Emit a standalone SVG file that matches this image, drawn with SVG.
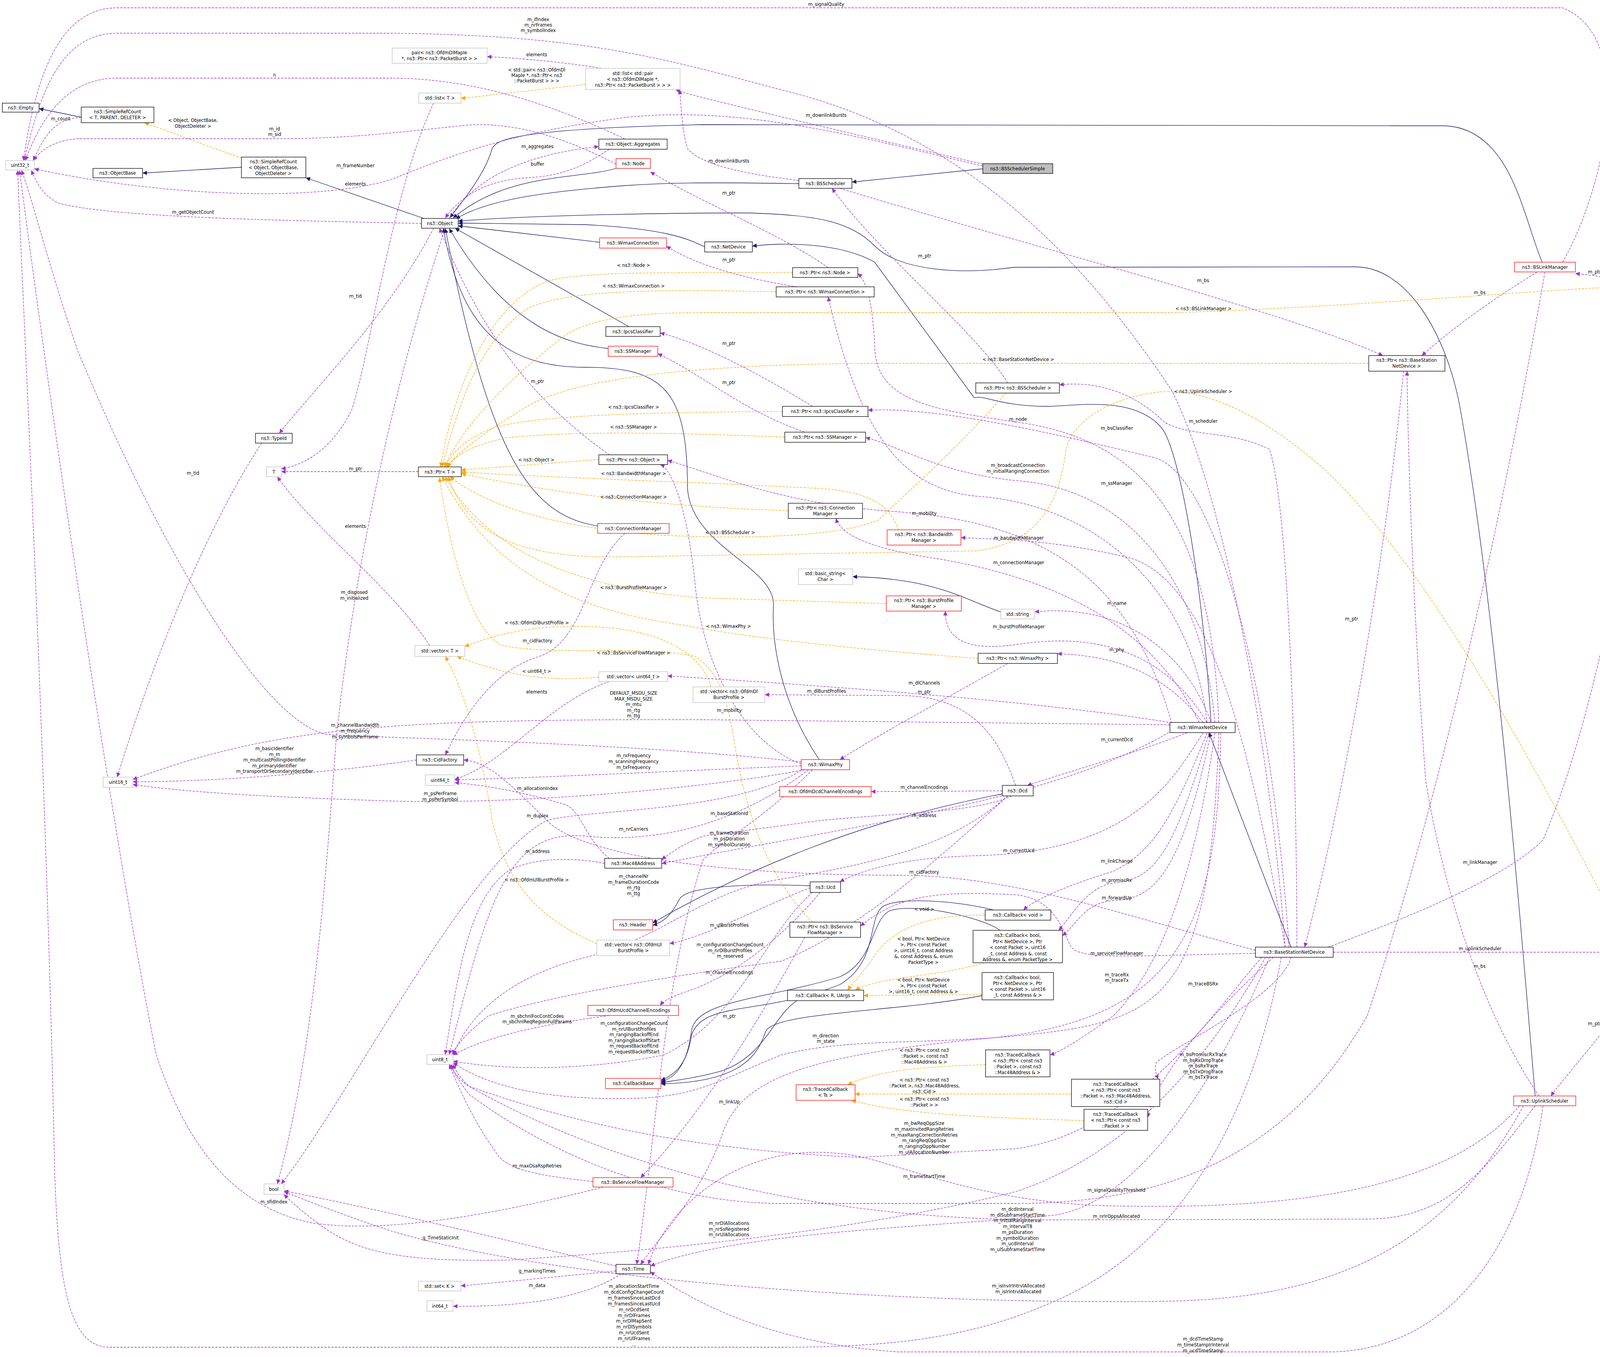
<svg xmlns="http://www.w3.org/2000/svg" width="4369" height="3473" viewBox="0 0 4369 3473">
<style>
text{font-family:"DejaVu Sans","Liberation Sans",sans-serif;font-size:11.5px;fill:#000;text-anchor:middle}
.b{fill:#fff;stroke:#000;stroke-width:1.3}
.r{fill:#fff;stroke:#f00;stroke-width:1.3}
.g{fill:#fff;stroke:#bfbfbf;stroke-width:1.3}
.s{fill:#bfbfbf;stroke:#000;stroke-width:1.3}
.u{fill:none;stroke:#9a32cd;stroke-width:1.3;stroke-dasharray:6,3;marker-end:url(#mu)}
.i{fill:none;stroke:#191970;stroke-width:1.3;marker-end:url(#mi)}
.t{fill:none;stroke:#ffa500;stroke-width:1.3;stroke-dasharray:6,3;marker-end:url(#mt)}
</style>
<defs>
<marker id="mu" viewBox="0 0 10 10" refX="10" refY="5" markerWidth="13" markerHeight="11" markerUnits="userSpaceOnUse" orient="auto"><path d="M0,0L10,5L0,10z" fill="#9a32cd"/></marker>
<marker id="mi" viewBox="0 0 10 10" refX="10" refY="5" markerWidth="13" markerHeight="11" markerUnits="userSpaceOnUse" orient="auto"><path d="M0,0L10,5L0,10z" fill="#191970"/></marker>
<marker id="mt" viewBox="0 0 10 10" refX="10" refY="5" markerWidth="13" markerHeight="11" markerUnits="userSpaceOnUse" orient="auto"><path d="M0,0L10,5L0,10z" fill="#ffa500"/></marker>
</defs>
<rect width="4369" height="3473" fill="#fff"/>
<g id="connectors">
<path class="i" d="M208,300L100,278"/>
<path class="i" d="M618,428L365,443"/>
<path class="i" d="M1085,559L783,455"/>
<path class="i" d="M3948,671C3900,560 3870,330 3700,322L1800,319C1300,330 1270,360 1260,380C1240,450 1180,520 1152,557"/>
<path class="i" d="M1577,431C1480,460 1300,440 1160,558"/>
<path class="i" d="M2045,470C1800,466 1700,468 1600,475C1400,490 1250,510 1167,560"/>
<path class="i" d="M1804,632C1760,610 1700,585 1500,575L1173,571"/>
<path class="i" d="M3930,2805C3880,2200 3820,1500 3736,1034C3700,850 3600,683 3470,683L2596,684C2450,705 2300,690 2240,630C2180,570 2100,548 1900,545C1600,545 1300,555 1173,566"/>
<path class="i" d="M1535,620L1173,578"/>
<path class="i" d="M1610,836L1165,584"/>
<path class="i" d="M1557,892C1450,880 1300,840 1150,585"/>
<path class="i" d="M1530,1346C1350,1320 1250,1150 1140,585"/>
<path class="i" d="M2097,1944C2000,1800 1975,1650 1980,1550C1985,1450 1770,1400 1760,1250C1760,1000 1700,940 1500,940C1300,940 1180,850 1135,584"/>
<path class="i" d="M3100,1849C3080,1500 3020,1150 2973,1094C2900,1010 2750,1040 2680,1040C2560,1040 2520,1010 2494,1018L2239,671C2150,620 2000,620 1926,630"/>
<path class="i" d="M3305,2424L3095,1875"/>
<path class="i" d="M2516,432L2181,466"/>
<path class="i" d="M2562,1566C2480,1540 2400,1480 2183,1476"/>
<path class="i" d="M2566,2032C2200,2100 1900,2230 1671,2362"/>
<path class="i" d="M2074,2267C1900,2260 1760,2270 1740,2300C1720,2340 1700,2360 1671,2368"/>
<path class="i" d="M2543,2329C2450,2305 2300,2295 2260,2320C2220,2350 2250,2460 2150,2520C1950,2600 1800,2560 1770,2650C1760,2720 1730,2750 1692,2765"/>
<path class="i" d="M2560,2381C2520,2350 2350,2310 2280,2330C2230,2350 2240,2460 2150,2500C1950,2560 1780,2560 1770,2640C1760,2720 1730,2760 1692,2768"/>
<path class="i" d="M2514,2548C2300,2590 1980,2590 1960,2640C1940,2700 1900,2770 1692,2774"/>
<path class="i" d="M2040,2561C1980,2600 1960,2700 1850,2740C1780,2760 1720,2766 1692,2771"/>
<path class="t" d="M618,405L370,314"/>
<path class="t" d="M1499,216L1180,252"/>
<path class="t" d="M2029,697C1800,700 1500,690 1400,720C1250,780 1160,1000 1128,1195"/>
<path class="t" d="M1987,747C1700,740 1450,740 1350,790C1220,880 1170,1050 1132,1195"/>
<path class="t" d="M4127,735C3900,745 3400,790 3000,800L1800,800C1600,800 1480,820 1420,880C1280,990 1180,1100 1138,1195"/>
<path class="t" d="M3504,930L2200,930C1700,935 1450,980 1350,1040C1250,1100 1180,1150 1143,1195"/>
<path class="t" d="M4170,2424C4000,2100 3700,1500 3400,1210C3200,1030 3050,990 2953,1005C2800,1030 2740,1100 2729,1150C2710,1300 2650,1390 2500,1410L1600,1425C1350,1430 1200,1380 1148,1220"/>
<path class="t" d="M2003,1053C1700,1055 1350,1060 1250,1100C1180,1130 1150,1170 1140,1195"/>
<path class="t" d="M2009,1119C1800,1110 1500,1100 1300,1120C1200,1140 1160,1170 1146,1196"/>
<path class="t" d="M1533,1176L1181,1203"/>
<path class="t" d="M2300,1356C2280,1300 2240,1260 2100,1250L1800,1236C1500,1225 1300,1215 1181,1208"/>
<path class="t" d="M2018,1307C1800,1300 1500,1280 1181,1212"/>
<path class="t" d="M2575,1006C2450,1150 2300,1280 2250,1330C2150,1375 1900,1380 1700,1370C1450,1355 1250,1300 1152,1220"/>
<path class="t" d="M2269,1545L1800,1530C1500,1510 1250,1420 1140,1220"/>
<path class="t" d="M2504,1685C2300,1670 1950,1640 1750,1600C1450,1560 1250,1450 1132,1220"/>
<path class="t" d="M2080,2360C2000,2280 1920,2150 1880,1900C1860,1780 1840,1720 1780,1680C1650,1650 1400,1680 1280,1650C1200,1600 1150,1400 1125,1222"/>
<path class="t" d="M1820,1758C1800,1680 1700,1605 1490,1603C1350,1600 1250,1630 1190,1655"/>
<path class="t" d="M1533,1733C1400,1745 1300,1730 1170,1680"/>
<path class="t" d="M1528,2415C1400,2360 1300,2280 1260,2100C1230,1900 1180,1750 1140,1680"/>
<path class="t" d="M2522,2342C2350,2340 2270,2390 2230,2460C2200,2500 2180,2520 2170,2534"/>
<path class="t" d="M2520,2464C2400,2500 2250,2500 2190,2534"/>
<path class="t" d="M2514,2545L2211,2548"/>
<path class="t" d="M2523,2725C2350,2730 2250,2740 2170,2776"/>
<path class="t" d="M2743,2800L2189,2800"/>
<path class="t" d="M2775,2868C2500,2860 2300,2850 2180,2816"/>
<path class="u" d="M208,300C150,305 120,330 85,411"/>
<path class="u" d="M1600,356C1400,260 1200,200 1000,200L300,200C200,200 120,260 65,411"/>
<path class="u" d="M4000,671C4100,500 4200,100 4000,20L300,20C150,20 90,200 60,411"/>
<path class="u" d="M3290,2424C3260,2000 3150,1300 3000,1000C2800,700 2500,350 2000,230C1700,150 1500,90 1000,85L300,85C150,85 100,250 62,411"/>
<path class="u" d="M1577,420C1500,380 1350,310 1200,320C1000,340 900,355 700,355L200,355C130,360 100,390 85,411"/>
<path class="u" d="M2516,425C2200,350 1900,270 1607,300C1300,340 1150,400 1000,460C800,520 400,500 88,432"/>
<path class="u" d="M1079,572C800,565 300,560 150,520C110,500 95,470 80,436"/>
<path class="u" d="M1540,175C1450,160 1350,150 1247,145"/>
<path class="u" d="M2516,420C2300,370 2000,300 1800,250C1760,240 1745,235 1730,230"/>
<path class="u" d="M2045,462C1950,450 1800,430 1760,380C1745,330 1745,280 1740,230"/>
<path class="u" d="M1150,559C1200,480 1300,400 1533,375"/>
<path class="u" d="M1560,382C1500,420 1450,450 1350,455C1250,460 1180,500 1140,558"/>
<path class="u" d="M2120,685C2000,600 1800,520 1665,440"/>
<path class="u" d="M2040,734C1950,720 1800,690 1706,630"/>
<path class="u" d="M2580,980C2500,850 2250,650 2130,482"/>
<path class="u" d="M2150,482C2600,620 3300,800 3540,910"/>
<path class="u" d="M2080,1040C1950,960 1800,880 1690,852"/>
<path class="u" d="M2060,1106C1900,1050 1800,960 1684,905"/>
<path class="u" d="M1560,1164C1400,1050 1250,900 1125,584"/>
<path class="u" d="M1071,1207L720,1207"/>
<path class="u" d="M1110,584C1000,800 800,1000 715,1109"/>
<path class="u" d="M670,1134C560,1300 420,1600 300,1989"/>
<path class="u" d="M1110,264C1000,500 950,900 900,1050C850,1150 780,1190 720,1200"/>
<path class="u" d="M1100,1652C1000,1500 800,1350 710,1220"/>
<path class="u" d="M1140,584C1000,1000 900,1500 860,1900C830,2300 800,2700 710,3030"/>
<path class="u" d="M1600,1365C1500,1450 1500,1640 1380,1680C1250,1720 1180,1850 1140,1932"/>
<path class="u" d="M3214,2432C2900,2350 2600,2240 2300,2240C1900,2240 1500,2200 1400,2100C1300,2000 1250,1950 1187,1945"/>
<path class="u" d="M1560,1744C1400,1800 1300,1950 1164,1995"/>
<path class="u" d="M2995,1855L1800,1842C1000,1840 700,1860 340,1995"/>
<path class="u" d="M2051,1950C1600,1900 1000,1890 840,1880C700,1860 450,1500 200,900C130,700 80,500 55,436"/>
<path class="u" d="M1066,1945C900,1970 600,2000 340,2001"/>
<path class="u" d="M2051,1960C1800,1970 1400,1990 1164,1996"/>
<path class="u" d="M2060,1970C1800,2020 1300,2060 1000,2050C700,2040 500,2030 340,2008"/>
<path class="u" d="M1560,2197C1500,2150 1490,2080 1450,2060C1350,2030 1250,2010 1164,2003"/>
<path class="u" d="M2060,1965C1900,2080 1500,2070 1400,2100C1200,2200 900,2800 720,3030"/>
<path class="u" d="M2070,1970C1900,2100 1700,2160 1500,2140C1300,2120 1250,2300 1150,2699"/>
<path class="u" d="M3000,1870C2700,2050 2200,2110 1694,2210"/>
<path class="u" d="M1548,2210C1450,2190 1350,2200 1300,2230C1200,2300 1170,2500 1140,2699"/>
<path class="u" d="M2590,2037C2500,2080 2300,2080 2100,2100L1800,2140C1750,2160 1720,2180 1694,2200"/>
<path class="u" d="M2080,1970C1950,2100 1850,2150 1800,2200C1700,2500 1680,2900 1630,3236"/>
<path class="u" d="M2580,2037C2450,2150 2300,2200 2000,2250C1800,2280 1700,2400 1500,2450C1300,2500 1200,2600 1160,2699"/>
<path class="u" d="M2566,2024L2230,2026"/>
<path class="u" d="M2600,2010C2560,1900 2500,1780 2300,1780L1958,1778"/>
<path class="u" d="M2580,1698C2400,1800 2250,1880 2150,1944"/>
<path class="u" d="M3000,1850C2700,1800 2200,1760 1709,1730"/>
<path class="u" d="M3040,1875C2900,1930 2750,1970 2630,2010"/>
<path class="u" d="M3080,1875C3000,2000 2900,2180 2500,2190C2300,2195 2200,2230 2150,2257"/>
<path class="u" d="M3090,1876C3000,2100 2950,2180 2850,2230C2750,2260 2650,2300 2620,2329"/>
<path class="u" d="M3095,1876C3000,2200 2950,2250 2850,2260C2780,2270 2740,2350 2710,2381"/>
<path class="u" d="M3100,1876C3020,2250 2950,2300 2850,2305C2780,2310 2760,2360 2720,2395"/>
<path class="u" d="M3214,2440C2900,2445 2760,2460 2740,2420C2720,2380 2700,2300 2600,2290C2400,2280 2300,2290 2203,2370"/>
<path class="u" d="M3110,1876C3050,2300 2950,2500 2850,2600C2780,2650 2720,2690 2688,2700"/>
<path class="u" d="M3260,2450C3150,2550 3000,2700 2950,2820C2945,2840 2940,2850 2938,2860"/>
<path class="u" d="M3305,2450C3280,2550 3000,2680 2960,2720C2955,2740 2960,2750 2965,2762"/>
<path class="u" d="M3100,1849C3050,1700 2900,1540 2649,1566"/>
<path class="u" d="M3090,1849C3000,1700 2850,1610 2600,1650C2450,1670 2420,1620 2420,1564"/>
<path class="u" d="M3080,1849C3000,1750 2900,1680 2707,1673"/>
<path class="u" d="M3070,1849C2950,1600 2700,1480 2400,1430C2200,1400 2150,1360 2140,1327"/>
<path class="u" d="M3290,2424C3200,1900 3100,1500 2900,1430C2700,1380 2550,1380 2460,1376"/>
<path class="u" d="M3110,1849C3080,1500 2900,1250 2600,1230C2400,1210 2300,1140 2216,1120"/>
<path class="u" d="M3090,1849C3050,1500 2800,1290 2500,1270C2300,1250 2200,1100 2120,760"/>
<path class="u" d="M3120,1849C3100,1300 2900,1120 2600,1080C2400,1050 2250,1030 2240,900C2235,780 2220,720 2196,700"/>
<path class="u" d="M3300,2424C3250,1700 3100,1200 2950,1170C2700,1110 2400,1040 2222,1050"/>
<path class="u" d="M3320,2424C3320,2000 3300,1300 3250,1150C3150,1100 3050,1120 2980,1080C2900,1000 2800,975 2712,985"/>
<path class="u" d="M3593,950C3550,1400 3450,2000 3340,2424"/>
<path class="u" d="M3940,2805C3800,2600 3700,2300 3650,2000C3620,1600 3605,1200 3602,950"/>
<path class="u" d="M3935,696C3800,780 3720,840 3640,910"/>
<path class="u" d="M4170,722C4120,710 4080,705 4033,700"/>
<path class="u" d="M3400,2424C3600,2350 3850,2250 3950,2150C4100,1800 4200,1200 4245,747"/>
<path class="u" d="M3413,2437L4124,2437"/>
<path class="u" d="M4230,2450C4150,2600 4050,2700 3970,2805"/>
<path class="u" d="M3955,696C3850,1300 3700,2000 3500,2600C3300,2950 3000,3080 2600,3080L2000,3080C1700,3080 1400,2950 1200,2800C1170,2760 1160,2740 1150,2724"/>
<path class="u" d="M3930,2830C3800,3000 3700,3120 3500,3120L2700,3122C2000,3125 1500,2950 1200,2780C1170,2760 1160,2740 1155,2724"/>
<path class="u" d="M3890,2830C3700,3050 3300,3100 2800,3085C2500,3070 2300,2980 2200,2960C1900,2900 1700,3100 1660,3236"/>
<path class="u" d="M3230,2450C3100,2600 2900,2900 2600,2940L2200,2962C1700,2940 1400,2850 1200,2780C1180,2760 1165,2740 1160,2724"/>
<path class="u" d="M2074,2272C1950,2320 1800,2400 1714,2415"/>
<path class="u" d="M2580,2037C2400,2200 2200,2380 2000,2460C1700,2500 1400,2550 1250,2600C1200,2640 1170,2670 1158,2699"/>
<path class="u" d="M2100,2284C2000,2400 1900,2480 1780,2530C1720,2550 1700,2560 1690,2573"/>
<path class="u" d="M1560,2599C1400,2620 1250,2650 1160,2700"/>
<path class="u" d="M2080,2284C1950,2400 1900,2600 1700,2700C1500,2740 1300,2740 1160,2716"/>
<path class="u" d="M2060,2399C1950,2600 1800,2850 1640,3014"/>
<path class="u" d="M3120,1876C3100,2500 3000,2600 2700,2640C2400,2680 2200,2650 2000,2700C1850,2760 1800,2800 1650,2810C1400,2820 1250,2780 1160,2720"/>
<path class="u" d="M3125,1876C3120,2400 3000,2620 2500,2660C2100,2700 1900,2750 1850,2900C1800,3050 1700,3150 1640,3236"/>
<path class="u" d="M1518,3024C1400,3010 1300,3000 1270,2950C1220,2880 1180,2800 1150,2724"/>
<path class="u" d="M1545,3038C1300,3100 1000,3160 800,3130C650,3100 500,3000 400,2700C300,2200 150,1200 50,436"/>
<path class="u" d="M1577,3240C1400,3200 1000,3100 727,3048"/>
<path class="u" d="M1577,3253C1450,3265 1300,3280 1180,3291"/>
<path class="u" d="M1590,3260C1500,3320 1350,3345 1160,3343"/>
<path class="u" d="M3280,2450C3200,2900 3000,3200 2700,3330C2500,3420 2300,3448 2000,3448L280,3448C180,3448 150,3300 140,3000C120,2000 60,800 45,436"/>
<path class="u" d="M3240,2450C3100,2700 2900,2950 2600,3050C2200,3150 1700,3200 1300,3225C1000,3230 900,3200 800,3120C760,3090 740,3070 727,3057"/>
<path class="u" d="M3250,2450C3100,2800 2900,3080 2700,3110C2400,3140 1900,3150 1665,3240"/>
<path class="u" d="M3900,2830C3700,3200 3400,3320 3000,3330C2500,3340 1500,3300 1000,3150C850,3100 780,3070 727,3050"/>
<path class="u" d="M3950,2830C3900,3200 3700,3460 3400,3460L2300,3460C2000,3440 1800,3350 1665,3255"/>
<path class="u" d="M3000,1852C2900,1500 2700,1340 2300,1310C2000,1290 1850,1220 1709,1178"/>
<path class="u" d="M2051,1955C1900,1900 1800,1700 1780,1500C1760,1300 1720,1200 1690,1189"/>
</g>
<g id="labels">
<text x="494" y="312">&lt; Object, ObjectBase,<tspan x="494" dy="15">ObjectDeleter &gt;</tspan></text>
<text x="1374" y="183">&lt; std::pair&lt; ns3::OfdmDl<tspan x="1374" dy="14">MapIe *, ns3::Ptr&lt; ns3</tspan><tspan x="1374" dy="14">::PacketBurst &gt; &gt; &gt;</tspan></text>
<text x="1622" y="683">&lt; ns3::Node &gt;</text>
<text x="1622" y="736">&lt; ns3::WimaxConnection &gt;</text>
<text x="3081" y="794">&lt; ns3::BSLinkManager &gt;</text>
<text x="2607" y="924">&lt; ns3::BaseStationNetDevice &gt;</text>
<text x="3080" y="1006">&lt; ns3::UplinkScheduler &gt;</text>
<text x="1622" y="1046">&lt; ns3::IpcsClassifier &gt;</text>
<text x="1622" y="1097">&lt; ns3::SSManager &gt;</text>
<text x="1373" y="1181">&lt; ns3::Object &gt;</text>
<text x="1622" y="1216">&lt; ns3::BandwidthManager &gt;</text>
<text x="1622" y="1276">&lt; ns3::ConnectionManager &gt;</text>
<text x="1869" y="1367">&lt; ns3::BSScheduler &gt;</text>
<text x="1622" y="1508">&lt; ns3::BurstProfileManager &gt;</text>
<text x="1374" y="1598">&lt; ns3::OfdmDlBurstProfile &gt;</text>
<text x="1865" y="1607">&lt; ns3::WimaxPhy &gt;</text>
<text x="1622" y="1675">&lt; ns3::BsServiceFlowManager &gt;</text>
<text x="1374" y="1722">&lt; uint64_t &gt;</text>
<text x="1374" y="2256">&lt; ns3::OfdmUlBurstProfile &gt;</text>
<text x="2366" y="2331">&lt; void &gt;</text>
<text x="2364" y="2407">&lt; bool, Ptr&lt; NetDevice<tspan x="2364" dy="15">&gt;, Ptr&lt; const Packet</tspan><tspan x="2364" dy="15">&gt;, uint16_t, const Address</tspan><tspan x="2364" dy="15">&amp;, const Address &amp;, enum</tspan><tspan x="2364" dy="15">PacketType &gt;</tspan></text>
<text x="2364" y="2512">&lt; bool, Ptr&lt; NetDevice<tspan x="2364" dy="15">&gt;, Ptr&lt; const Packet</tspan><tspan x="2364" dy="15">&gt;, uint16_t, const Address &amp; &gt;</tspan></text>
<text x="2366" y="2692">&lt; ns3::Ptr&lt; const ns3<tspan x="2366" dy="15">::Packet &gt;, const ns3</tspan><tspan x="2366" dy="15">::Mac48Address &amp; &gt;</tspan></text>
<text x="2366" y="2768">&lt; ns3::Ptr&lt; const ns3<tspan x="2366" dy="15">::Packet &gt;, ns3::Mac48Address,</tspan><tspan x="2366" dy="15">ns3::Cid &gt;</tspan></text>
<text x="2366" y="2817">&lt; ns3::Ptr&lt; const ns3<tspan x="2366" dy="15">::Packet &gt; &gt;</tspan></text>
<text x="155" y="308">m_count</text>
<text x="703" y="196">n</text>
<text x="2115" y="15">m_signalQuality</text>
<text x="1378" y="54">m_ifIndex<tspan x="1378" dy="14">m_nrFrames</tspan><tspan x="1378" dy="14">m_symbolIndex</tspan></text>
<text x="703" y="334">m_id<tspan x="703" dy="14">m_sid</tspan></text>
<text x="910" y="428">m_frameNumber</text>
<text x="494" y="547">m_getObjectCount</text>
<text x="1374" y="144">elements</text>
<text x="2115" y="299">m_downlinkBursts</text>
<text x="1866" y="416">m_downlinkBursts</text>
<text x="1376" y="379">m_aggregates</text>
<text x="1376" y="424">buffer</text>
<text x="1866" y="498">m_ptr</text>
<text x="1866" y="669">m_ptr</text>
<text x="2367" y="659">m_ptr</text>
<text x="3080" y="722">m_bs</text>
<text x="1866" y="883">m_ptr</text>
<text x="1866" y="983">m_ptr</text>
<text x="1376" y="980">m_ptr</text>
<text x="910" y="1204">m_ptr</text>
<text x="910" y="762">m_tid</text>
<text x="494" y="1215">m_tid</text>
<text x="910" y="475">elements</text>
<text x="910" y="1351">elements</text>
<text x="907" y="1520">m_disposed<tspan x="907" dy="15">m_initialized</tspan></text>
<text x="1376" y="1644">m_cidFactory</text>
<text x="2366" y="2236">m_cidFactory</text>
<text x="1374" y="1775">elements</text>
<text x="1622" y="1778">DEFAULT_MSDU_SIZE<tspan x="1622" dy="14.5">MAX_MSDU_SIZE</tspan><tspan x="1622" dy="14.5">m_mtu</tspan><tspan x="1622" dy="14.5">m_rtg</tspan><tspan x="1622" dy="14.5">m_ttg</tspan></text>
<text x="909" y="1860">m_channelBandwidth<tspan x="909" dy="15">m_frequency</tspan><tspan x="909" dy="15">m_symbolsPerFrame</tspan></text>
<text x="703" y="1920">m_basicIdentifier<tspan x="703" dy="14.5">m_m</tspan><tspan x="703" dy="14.5">m_multicastPollingIdentifier</tspan><tspan x="703" dy="14.5">m_primaryIdentifier</tspan><tspan x="703" dy="14.5">m_transportOrSecondaryIdentifier</tspan></text>
<text x="1622" y="1938">m_rxFrequency<tspan x="1622" dy="15">m_scanningFrequency</tspan><tspan x="1622" dy="15">m_txFrequency</tspan></text>
<text x="1127" y="2035">m_psPerFrame<tspan x="1127" dy="15">m_psPerSymbol</tspan></text>
<text x="1376" y="2022">m_allocationIndex</text>
<text x="1376" y="2092">m_duplex</text>
<text x="1622" y="2126">m_nrCarriers</text>
<text x="2366" y="2091">m_address</text>
<text x="1376" y="2183">m_address</text>
<text x="1867" y="2086">m_baseStationId</text>
<text x="1867" y="2136">m_frameDuration<tspan x="1867" dy="15">m_psDuration</tspan><tspan x="1867" dy="15">m_symbolDuration</tspan></text>
<text x="1622" y="2247">m_channelNr<tspan x="1622" dy="14.5">m_frameDurationCode</tspan><tspan x="1622" dy="14.5">m_rtg</tspan><tspan x="1622" dy="14.5">m_ttg</tspan></text>
<text x="2366" y="2019">m_channelEncodings</text>
<text x="2116" y="1773">m_dlBurstProfiles</text>
<text x="2366" y="1775">m_ptr</text>
<text x="2366" y="1752">m_dlChannels</text>
<text x="2859" y="1897">m_currentDcd</text>
<text x="2608" y="2181">m_currentUcd</text>
<text x="2859" y="2208">m_linkChange</text>
<text x="2859" y="2257">m_promiscRx</text>
<text x="2859" y="2302">m_forwardUp</text>
<text x="2859" y="2444">m_serviceFlowManager</text>
<text x="2859" y="2499">m_traceRx<tspan x="2859" dy="14">m_traceTx</tspan></text>
<text x="3080" y="2522">m_traceBSRx</text>
<text x="3080" y="2703">m_bsPromiscRxTrace<tspan x="3080" dy="14.5">m_bsRxDropTrace</tspan><tspan x="3080" dy="14.5">m_bsRxTrace</tspan><tspan x="3080" dy="14.5">m_bsTxDropTrace</tspan><tspan x="3080" dy="14.5">m_bsTxTrace</tspan></text>
<text x="2859" y="1548">m_name</text>
<text x="2608" y="1608">m_burstProfileManager</text>
<text x="2859" y="1667">m_phy</text>
<text x="2608" y="1444">m_connectionManager</text>
<text x="2608" y="1381">m_bandwidthManager</text>
<text x="2859" y="1241">m_ssManager</text>
<text x="2606" y="1195">m_broadcastConnection<tspan x="2606" dy="15">m_initialRangingConnection</tspan></text>
<text x="2606" y="1077">m_node</text>
<text x="2859" y="1100">m_bsClassifier</text>
<text x="3080" y="1082">m_scheduler</text>
<text x="3460" y="1588">m_ptr</text>
<text x="3788" y="2477">m_bs</text>
<text x="3788" y="753">m_bs</text>
<text x="4082" y="700">m_ptr</text>
<text x="3789" y="2211">m_linkManager</text>
<text x="3789" y="2432">m_uplinkScheduler</text>
<text x="4082" y="2624">m_ptr</text>
<text x="2858" y="3050">m_signalQualityThreshold</text>
<text x="2858" y="3117">m_nrIrOppsAllocated</text>
<text x="2366" y="3015">m_frameStartTime</text>
<text x="2366" y="2879">m_bwReqOppSize<tspan x="2366" dy="14.8">m_maxInvitedRangRetries</tspan><tspan x="2366" dy="14.8">m_maxRangCorrectionRetries</tspan><tspan x="2366" dy="14.8">m_rangReqOppSize</tspan><tspan x="2366" dy="14.8">m_rangingOppNumber</tspan><tspan x="2366" dy="14.8">m_ulAllocationNumber</tspan></text>
<text x="1867" y="2372">m_ulBurstProfiles</text>
<text x="1869" y="2422">m_configurationChangeCount<tspan x="1869" dy="14.5">m_nrDlBurstProfiles</tspan><tspan x="1869" dy="14.5">m_reserved</tspan></text>
<text x="1867" y="2493">m_channelEncodings</text>
<text x="1375" y="2605">m_sbchnlFocContCodes<tspan x="1375" dy="14">m_sbchnlReqRegionFullParams</tspan></text>
<text x="1623" y="2623">m_configurationChangeCount<tspan x="1623" dy="14.5">m_nrUlBurstProfiles</tspan><tspan x="1623" dy="14.5">m_rangingBackoffEnd</tspan><tspan x="1623" dy="14.5">m_rangingBackoffStart</tspan><tspan x="1623" dy="14.5">m_requestBackoffEnd</tspan><tspan x="1623" dy="14.5">m_requestBackoffStart</tspan></text>
<text x="1867" y="2605">m_ptr</text>
<text x="2114" y="2655">m_direction<tspan x="2114" dy="14">m_state</tspan></text>
<text x="1867" y="2824">m_linkUp</text>
<text x="1375" y="2988">m_maxDsaRspRetries</text>
<text x="701" y="3080">m_sfidIndex</text>
<text x="1128" y="3172">g_TimeStaticInit</text>
<text x="1375" y="3257">g_markingTimes</text>
<text x="1375" y="3294">m_data</text>
<text x="1623" y="3296">m_allocationStartTime<tspan x="1623" dy="14.9">m_dcdConfigChangeCount</tspan><tspan x="1623" dy="14.9">m_framesSinceLastDcd</tspan><tspan x="1623" dy="14.9">m_framesSinceLastUcd</tspan><tspan x="1623" dy="14.9">m_nrDcdSent</tspan><tspan x="1623" dy="14.9">m_nrDlFrames</tspan><tspan x="1623" dy="14.9">m_nrDlMapSent</tspan><tspan x="1623" dy="14.9">m_nrDlSymbols</tspan><tspan x="1623" dy="14.9">m_nrUcdSent</tspan><tspan x="1623" dy="14.9">m_nrUlFrames</tspan><tspan x="1623" dy="14.9">...</tspan></text>
<text x="1866" y="3135">m_nrDlAllocations<tspan x="1866" dy="14.5">m_nrSsRegistered</tspan><tspan x="1866" dy="14.5">m_nrUlAllocations</tspan></text>
<text x="2605" y="3099">m_dcdInterval<tspan x="2605" dy="14.7">m_dlSubframeStartTime</tspan><tspan x="2605" dy="14.7">m_initialRangInterval</tspan><tspan x="2605" dy="14.7">m_intervalT8</tspan><tspan x="2605" dy="14.7">m_psDuration</tspan><tspan x="2605" dy="14.7">m_symbolDuration</tspan><tspan x="2605" dy="14.7">m_ucdInterval</tspan><tspan x="2605" dy="14.7">m_ulSubframeStartTime</tspan></text>
<text x="2607" y="3295">m_isInvIrIntrvlAllocated<tspan x="2607" dy="15">m_isIrIntrvlAllocated</tspan></text>
<text x="3080" y="3431">m_dcdTimeStamp<tspan x="3080" dy="15">m_timeStampIrInterval</tspan><tspan x="3080" dy="15">m_ucdTimeStamp</tspan></text>
<text x="2366" y="1318">m_mobility</text>
<text x="1867" y="1822">m_mobility</text>
</g>
<g id="n1"><rect class="b" x="6" y="264" width="94" height="23"/><text x="53" y="280">ns3::Empty</text></g>
<g id="n2"><rect class="b" x="208" y="274" width="186" height="40"/><text x="301" y="290">ns3::SimpleRefCount<tspan x="301" dy="15">&lt; T, PARENT, DELETER &gt;</tspan></text></g>
<g id="n3"><rect class="g" x="15" y="411" width="73" height="24"/><text x="51" y="427">uint32_t</text></g>
<g id="n4"><rect class="b" x="238" y="431" width="127" height="24"/><text x="301" y="447">ns3::ObjectBase</text></g>
<g id="n5"><rect class="b" x="618" y="402" width="165" height="53"/><text x="700" y="418">ns3::SimpleRefCount<tspan x="700" dy="15">&lt; Object, ObjectBase,</tspan><tspan x="700" dy="15">ObjectDeleter &gt;</tspan></text></g>
<g id="n6"><rect class="g" x="1004" y="123" width="243" height="39"/><text x="1125" y="139">pair&lt; ns3::OfdmDlMapIe<tspan x="1125" dy="15">*, ns3::Ptr&lt; ns3::PacketBurst &gt; &gt;</tspan></text></g>
<g id="n7"><rect class="g" x="1499" y="175" width="242" height="54"/><text x="1620" y="192">std::list&lt; std::pair<tspan x="1620" dy="15">&lt; ns3::OfdmDlMapIe *,</tspan><tspan x="1620" dy="15">ns3::Ptr&lt; ns3::PacketBurst &gt; &gt; &gt;</tspan></text></g>
<g id="n8"><rect class="g" x="1072" y="238" width="108" height="26"/><text x="1126" y="255">std::list&lt; T &gt;</text></g>
<g id="n9"><rect class="b" x="1533" y="356" width="175" height="26"/><text x="1620" y="373">ns3::Object::Aggregates</text></g>
<g id="n10"><rect class="r" x="1577" y="406" width="88" height="25"/><text x="1621" y="423">ns3::Node</text></g>
<g id="n11"><rect class="b" x="1079" y="559" width="94" height="25" stroke-width="2"/><text x="1126" y="576">ns3::Object</text></g>
<g id="n12"><rect class="r" x="1535" y="609" width="171" height="26"/><text x="1620" y="626">ns3::WimaxConnection</text></g>
<g id="n13"><rect class="b" x="1551" y="836" width="139" height="25"/><text x="1620" y="853">ns3::IpcsClassifier</text></g>
<g id="n14"><rect class="r" x="1557" y="886" width="127" height="26"/><text x="1620" y="903">ns3::SSManager</text></g>
<g id="n15"><rect class="b" x="654" y="1109" width="94" height="25"/><text x="701" y="1126">ns3::TypeId</text></g>
<g id="n16"><rect class="g" x="682" y="1195" width="38" height="25"/><text x="701" y="1212">T</text></g>
<g id="n17"><rect class="b" x="1071" y="1195" width="110" height="25"/><text x="1126" y="1212">ns3::Ptr&lt; T &gt;</text></g>
<g id="n18"><rect class="b" x="1533" y="1164" width="176" height="25"/><text x="1621" y="1181">ns3::Ptr&lt; ns3::Object &gt;</text></g>
<g id="n19"><rect class="s" x="2516" y="419" width="179" height="25"/><text x="2605" y="436">ns3::BSSchedulerSimple</text></g>
<g id="n20"><rect class="b" x="2045" y="457" width="136" height="25"/><text x="2113" y="474">ns3::BSScheduler</text></g>
<g id="n21"><rect class="b" x="1804" y="619" width="122" height="26"/><text x="1865" y="636">ns3::NetDevice</text></g>
<g id="n22"><rect class="b" x="2029" y="685" width="167" height="25"/><text x="2112" y="702">ns3::Ptr&lt; ns3::Node &gt;</text></g>
<g id="n23"><rect class="b" x="1987" y="734" width="251" height="26"/><text x="2112" y="751">ns3::Ptr&lt; ns3::WimaxConnection &gt;</text></g>
<g id="n24"><rect class="b" x="2498" y="980" width="214" height="26"/><text x="2605" y="997">ns3::Ptr&lt; ns3::BSScheduler &gt;</text></g>
<g id="n25"><rect class="b" x="2003" y="1040" width="219" height="26"/><text x="2112" y="1057">ns3::Ptr&lt; ns3::IpcsClassifier &gt;</text></g>
<g id="n26"><rect class="b" x="2009" y="1106" width="207" height="26"/><text x="2112" y="1123">ns3::Ptr&lt; ns3::SSManager &gt;</text></g>
<g id="n27"><rect class="r" x="3877" y="671" width="156" height="25"/><text x="3955" y="688">ns3::BSLinkManager</text></g>
<g id="n28"><rect class="b" x="4127" y="722" width="235" height="25"/><text x="4244" y="739">ns3::Ptr&lt; ns3::BSLinkManager &gt;</text></g>
<g id="n29"><rect class="b" x="3504" y="910" width="195" height="40"/><text x="3601" y="926">ns3::Ptr&lt; ns3::BaseStation<tspan x="3601" dy="15">NetDevice &gt;</tspan></text></g>
<g id="n30"><rect class="r" x="1530" y="1340" width="183" height="25"/><text x="1621" y="1357">ns3::ConnectionManager</text></g>
<g id="n31"><rect class="g" x="1062" y="1652" width="128" height="28"/><text x="1126" y="1670">std::vector&lt; T &gt;</text></g>
<g id="n32"><rect class="g" x="1533" y="1719" width="176" height="25"/><text x="1621" y="1736">std::vector&lt; uint64_t &gt;</text></g>
<g id="n33"><rect class="g" x="264" y="1989" width="76" height="26"/><text x="302" y="2006">uint16_t</text></g>
<g id="n34"><rect class="b" x="1066" y="1932" width="121" height="26"/><text x="1126" y="1949">ns3::CidFactory</text></g>
<g id="n35"><rect class="g" x="1089" y="1983" width="75" height="27"/><text x="1126" y="2001">uint64_t</text></g>
<g id="n36"><rect class="b" x="1548" y="2197" width="146" height="25"/><text x="1621" y="2214">ns3::Mac48Address</text></g>
<g id="n37"><rect class="r" x="1570" y="2354" width="101" height="26"/><text x="1620" y="2371">ns3::Header</text></g>
<g id="n38"><rect class="g" x="1528" y="2406" width="186" height="40"/><text x="1621" y="2422">std::vector&lt; ns3::OfdmUl<tspan x="1621" dy="15">BurstProfile &gt;</tspan></text></g>
<g id="n39"><rect class="r" x="1505" y="2573" width="232" height="26"/><text x="1621" y="2590">ns3::OfdmUcdChannelEncodings</text></g>
<g id="n40"><rect class="b" x="2018" y="1288" width="190" height="39"/><text x="2113" y="1304">ns3::Ptr&lt; ns3::Connection<tspan x="2113" dy="15">Manager &gt;</tspan></text></g>
<g id="n41"><rect class="r" x="2271" y="1356" width="189" height="39"/><text x="2365" y="1372">ns3::Ptr&lt; ns3::Bandwidth<tspan x="2365" dy="15">Manager &gt;</tspan></text></g>
<g id="n42"><rect class="g" x="2044" y="1456" width="139" height="40"/><text x="2113" y="1472">std::basic_string&lt;<tspan x="2113" dy="15">Char &gt;</tspan></text></g>
<g id="n43"><rect class="r" x="2269" y="1525" width="192" height="39"/><text x="2365" y="1541">ns3::Ptr&lt; ns3::BurstProfile<tspan x="2365" dy="15">Manager &gt;</tspan></text></g>
<g id="n44"><rect class="g" x="2562" y="1559" width="87" height="25"/><text x="2605" y="1576">std::string</text></g>
<g id="n45"><rect class="b" x="2504" y="1672" width="203" height="26"/><text x="2605" y="1689">ns3::Ptr&lt; ns3::WimaxPhy &gt;</text></g>
<g id="n46"><rect class="g" x="1774" y="1758" width="184" height="40"/><text x="1866" y="1774">std::vector&lt; ns3::OfdmDl<tspan x="1866" dy="15">BurstProfile &gt;</tspan></text></g>
<g id="n47"><rect class="b" x="2995" y="1849" width="167" height="26"/><text x="3078" y="1866">ns3::WimaxNetDevice</text></g>
<g id="n48"><rect class="r" x="2051" y="1944" width="124" height="26"/><text x="2113" y="1961">ns3::WimaxPhy</text></g>
<g id="n49"><rect class="r" x="1996" y="2013" width="234" height="26"/><text x="2113" y="2030">ns3::OfdmDcdChannelEncodings</text></g>
<g id="n50"><rect class="b" x="2566" y="2010" width="79" height="27"/><text x="2605" y="2028">ns3::Dcd</text></g>
<g id="n51"><rect class="b" x="2074" y="2257" width="78" height="27"/><text x="2113" y="2275">ns3::Ucd</text></g>
<g id="n52"><rect class="b" x="2522" y="2329" width="168" height="26"/><text x="2606" y="2346">ns3::Callback&lt; void &gt;</text></g>
<g id="n53"><rect class="b" x="2022" y="2360" width="181" height="39"/><text x="2112" y="2376">ns3::Ptr&lt; ns3::BsService<tspan x="2112" dy="15">FlowManager &gt;</tspan></text></g>
<g id="n54"><rect class="b" x="2491" y="2381" width="229" height="83"/><text x="2605" y="2398">ns3::Callback&lt; bool,<tspan x="2605" dy="15.5">Ptr&lt; NetDevice &gt;, Ptr</tspan><tspan x="2605" dy="15.5">&lt; const Packet &gt;, uint16</tspan><tspan x="2605" dy="15.5">_t, const Address &amp;, const</tspan><tspan x="2605" dy="15.5">Address &amp;, enum PacketType &gt;</tspan></text></g>
<g id="n55"><rect class="b" x="2514" y="2489" width="183" height="70"/><text x="2605" y="2506">ns3::Callback&lt; bool,<tspan x="2605" dy="15">Ptr&lt; NetDevice &gt;, Ptr</tspan><tspan x="2605" dy="15">&lt; const Packet &gt;, uint16</tspan><tspan x="2605" dy="15">_t, const Address &amp; &gt;</tspan></text></g>
<g id="n56"><rect class="b" x="2016" y="2534" width="195" height="27"/><text x="2113" y="2552">ns3::Callback&lt; R, UArgs &gt;</text></g>
<g id="n57"><rect class="b" x="3214" y="2424" width="199" height="26"/><text x="3313" y="2441">ns3::BaseStationNetDevice</text></g>
<g id="n58"><rect class="b" x="4124" y="2424" width="239" height="26"/><text x="4243" y="2441">ns3::Ptr&lt; ns3::UplinkScheduler &gt;</text></g>
<g id="n59"><rect class="r" x="3875" y="2805" width="159" height="25"/><text x="3954" y="2822">ns3::UplinkScheduler</text></g>
<g id="n60"><rect class="b" x="2743" y="2762" width="226" height="70"/><text x="2856" y="2779">ns3::TracedCallback<tspan x="2856" dy="15">&lt; ns3::Ptr&lt; const ns3</tspan><tspan x="2856" dy="15">::Packet &gt;, ns3::Mac48Address,</tspan><tspan x="2856" dy="15">ns3::Cid &gt;</tspan></text></g>
<g id="n61"><rect class="b" x="2775" y="2839" width="163" height="54"/><text x="2856" y="2856">ns3::TracedCallback<tspan x="2856" dy="15">&lt; ns3::Ptr&lt; const ns3</tspan><tspan x="2856" dy="15">::Packet &gt; &gt;</tspan></text></g>
<g id="n62"><rect class="r" x="1550" y="2760" width="142" height="26"/><text x="1621" y="2777">ns3::CallbackBase</text></g>
<g id="n63"><rect class="r" x="2038" y="2776" width="151" height="40"/><text x="2113" y="2792">ns3::TracedCallback<tspan x="2113" dy="15">&lt; Ts &gt;</tspan></text></g>
<g id="n64"><rect class="b" x="2523" y="2687" width="165" height="69"/><text x="2605" y="2704">ns3::TracedCallback<tspan x="2605" dy="15">&lt; ns3::Ptr&lt; const ns3</tspan><tspan x="2605" dy="15">::Packet &gt;, const ns3</tspan><tspan x="2605" dy="15">::Mac48Address &amp; &gt;</tspan></text></g>
<g id="n65"><rect class="r" x="1518" y="3014" width="205" height="24"/><text x="1620" y="3030">ns3::BsServiceFlowManager</text></g>
<g id="n66"><rect class="b" x="1577" y="3236" width="88" height="24" stroke-width="2"/><text x="1621" y="3252">ns3::Time</text></g>
<g id="n67"><rect class="g" x="1093" y="2699" width="67" height="25"/><text x="1126" y="2716">uint8_t</text></g>
<g id="n68"><rect class="g" x="676" y="3030" width="51" height="27"/><text x="701" y="3048">bool</text></g>
<g id="n69"><rect class="g" x="1071" y="3279" width="109" height="25"/><text x="1125" y="3296">std::set&lt; K &gt;</text></g>
<g id="n70"><rect class="g" x="1093" y="3329" width="67" height="27"/><text x="1126" y="3347">int64_t</text></g>
</svg>
